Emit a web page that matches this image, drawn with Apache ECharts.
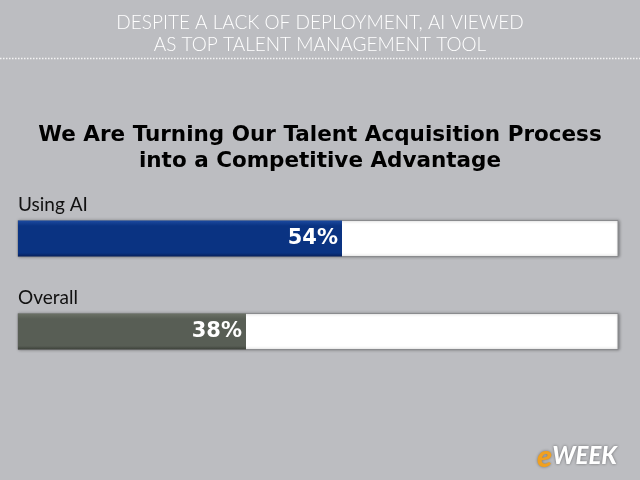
<!DOCTYPE html>
<html>
<head>
<meta charset="utf-8">
<script src="https://cdn.jsdelivr.net/npm/echarts@6/dist/echarts.min.js"></script>
<style>
  html, body { margin: 0; padding: 0; background: #bcbdc1; }
  #main { width: 640px; height: 480px; }
</style>
</head>
<body>
<div id="main"></div>
<script>
// data
var categories = ['Using AI', 'Overall'];
var values = [54, 38];
var barColors = [['#1c4aa0', '#0a3382', '#071f5a'], ['#6b7166', '#585e55', '#3c4039']];

var chart = echarts.init(document.getElementById('main'), null, { renderer: 'canvas' });

var option = {
  backgroundColor: '#bcbdc1',
  animation: false,
  title: [{
    text: 'DESPITE A LACK OF DEPLOYMENT, AI VIEWED\nAS TOP TALENT MANAGEMENT TOOL',
    left: 'center',
    top: 7,
    textStyle: {
      color: '#ffffff',
      fontFamily: 'Lato',
      fontWeight: 300,
      fontSize: 19,
      lineHeight: 22
    }
  }, {
    text: 'We Are Turning Our Talent Acquisition Process\ninto a Competitive Advantage',
    left: 'center',
    top: 117,
    textStyle: {
      color: '#000000',
      fontFamily: 'DejaVu Sans',
      fontWeight: 'bold',
      fontSize: 21.5,
      lineHeight: 26
    }
  }],
  grid: { left: 18, right: 22, top: 192, bottom: 102 },
  xAxis: {
    type: 'value',
    min: 0,
    max: 100,
    show: false
  },
  yAxis: {
    type: 'category',
    data: categories,
    inverse: true,
    axisLine: { show: false },
    axisTick: { show: false },
    splitLine: { show: false },
    axisLabel: {
      margin: 0,
      align: 'left',
      verticalAlign: 'bottom',
      padding: [0, 0, 24, 0],
      color: '#111111',
      fontFamily: 'Lato',
      fontSize: 19
    }
  },
  series: [{
    type: 'bar',
    barWidth: 36,
    showBackground: true,
    backgroundStyle: {
      color: '#ffffff',
      borderColor: '#8a8b8e',
      borderWidth: 1,
      shadowColor: 'rgba(0,0,0,0.35)',
      shadowBlur: 3,
      shadowOffsetX: 1
    },
    data: values.map(function (v, i) {
      return {
        value: v,
        itemStyle: {
          color: new echarts.graphic.LinearGradient(0, 0, 0, 1, [
            { offset: 0, color: barColors[i][0] },
            { offset: 0.15, color: barColors[i][1] },
            { offset: 0.9, color: barColors[i][1] },
            { offset: 1, color: barColors[i][2] }
          ])
        }
      };
    }),
    label: {
      show: true,
      position: 'insideRight',
      distance: 4,
      formatter: '{c}%',
      color: '#ffffff',
      fontFamily: 'DejaVu Sans',
      fontWeight: 'bold',
      fontSize: 21
    }
  }],
  graphic: [{
    type: 'line',
    shape: { x1: 0, y1: 58.5, x2: 640, y2: 58.5 },
    style: { stroke: '#f4f4f4', lineWidth: 1.5, lineDash: [1.5, 1.5] }
  }, {
    type: 'text',
    left: 537,
    top: 441,
    style: {
      text: '{e|e}{w|WEEK}',
      rich: {
        e: { fontFamily: 'Lato', fontWeight: 900, fontStyle: 'italic', fontSize: 31, fill: '#f0a020', textShadowColor: 'rgba(0,0,0,0.4)', textShadowBlur: 3 },
        w: { fontFamily: 'Lato', fontWeight: 900, fontStyle: 'italic', fontSize: 24, fill: '#ffffff', textShadowColor: 'rgba(0,0,0,0.45)', textShadowBlur: 3 }
      }
    }
  }]
};

chart.setOption(option);
</script>
</body>
</html>
